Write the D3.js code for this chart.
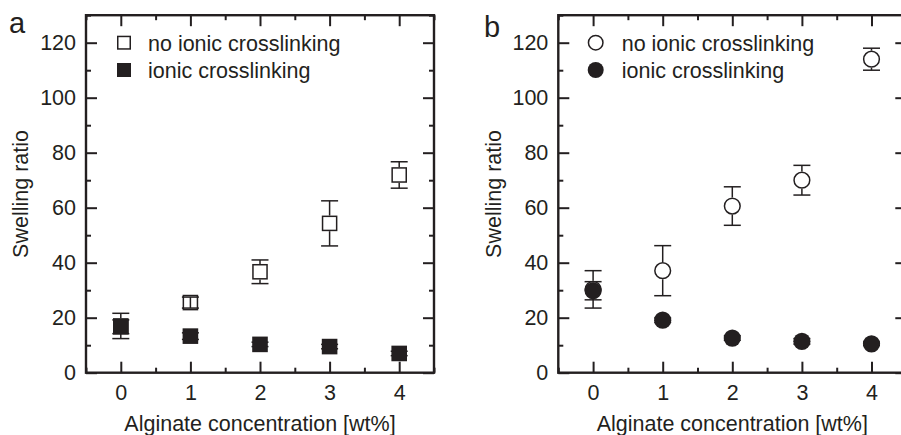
<!DOCTYPE html>
<html>
<head>
<meta charset="utf-8">
<script src="https://cdn.jsdelivr.net/npm/d3@7"></script>
<style>
  body { margin: 0; background: #fff; }
  svg { display: block; }
  text { font-family: "Liberation Sans", Arial, sans-serif; fill: #231f20; }
</style>
</head>
<body>
<svg id="chart" width="901" height="435"></svg>
<script>
// Alginate concentration (wt%) on the x axis
const concentrations = [0, 1, 2, 3, 4];
const xTicks = [0, 1, 2, 3, 4];
const xMinorTicks = [-0.5, 0.5, 1.5, 2.5, 3.5, 4.5];
const yTicks = [0, 20, 40, 60, 80, 100, 120];
const yMinorTicks = [10, 30, 50, 70, 90, 110, 130];
const seriesNames = ["no ionic crosslinking", "ionic crosslinking"];
const panelLetters = ["a", "b"];

// Panel a: swelling ratio (mean and error)
const aNoIonic = [17.0, 25.5, 36.7, 54.3, 71.9];
const aNoIonicErr = [4.6, 2.0, 4.3, 8.2, 4.8];
const aIonic = [16.7, 13.3, 10.3, 9.5, 7.0];
const aIonicErr = [2.5, 1.2, 0.8, 0.8, 0.8];

// Panel b: swelling ratio (mean and error)
const bNoIonic = [30.3, 37.1, 60.6, 70.0, 114.0];
const bNoIonicErr = [6.8, 9.1, 7.0, 5.4, 4.0];
const bIonic = [29.8, 19.1, 12.6, 11.4, 10.5];
const bIonicErr = [3.3, 0.8, 0.8, 1.0, 0.6];

const ink = "#231f20";
const svg = d3.select("#chart");

const panels = [
  { letter: panelLetters[0], left: 86, shape: "square",
    open: aNoIonic, openErr: aNoIonicErr, filled: aIonic, filledErr: aIonicErr,
    letterPos: [9, 33], legendDx: 38, textDx: 62 },
  { letter: panelLetters[1], left: 558.3, shape: "circle",
    open: bNoIonic, openErr: bNoIonicErr, filled: bIonic, filledErr: bIonicErr,
    letterPos: [484, 37], legendDx: 37.4, textDx: 63.4 }
];

const plotW = 348, plotTop = 15.2, plotBottom = 372.7;

panels.forEach(p => {
  const x = d3.scaleLinear().domain([-0.5, 4.5]).range([p.left, p.left + plotW]);
  const y = d3.scaleLinear().domain([0, 130]).range([plotBottom, plotTop]);
  const g = svg.append("g");

  // Frame
  g.append("rect")
    .attr("x", x.range()[0]).attr("y", plotTop)
    .attr("width", plotW).attr("height", plotBottom - plotTop)
    .attr("fill", "none").attr("stroke", ink).attr("stroke-width", 2.4);

  const styleAxis = sel => {
    sel.select(".domain").remove();
    sel.selectAll(".tick line").attr("stroke", ink).attr("stroke-width", 2);
    sel.selectAll(".tick text").attr("fill", ink)
      .style("font-size", "21.5px").style("font-family", '"Liberation Sans", Arial, sans-serif');
  };

  // Major and minor ticks on all four sides, pointing inward
  g.append("g").attr("transform", `translate(0,${plotBottom})`)
    .call(d3.axisBottom(x).tickValues(xTicks).tickSize(-11).tickPadding(12.5).tickFormat(d3.format("d")))
    .call(styleAxis);
  g.append("g").attr("transform", `translate(0,${plotBottom})`)
    .call(d3.axisBottom(x).tickValues(xMinorTicks).tickSize(-5).tickFormat(""))
    .call(styleAxis);
  g.append("g").attr("transform", `translate(0,${plotTop})`)
    .call(d3.axisTop(x).tickValues(xTicks).tickSize(-11).tickFormat(""))
    .call(styleAxis);
  g.append("g").attr("transform", `translate(0,${plotTop})`)
    .call(d3.axisTop(x).tickValues(xMinorTicks).tickSize(-5).tickFormat(""))
    .call(styleAxis);
  g.append("g").attr("transform", `translate(${x.range()[0]},0)`)
    .call(d3.axisLeft(y).tickValues(yTicks).tickSize(-11).tickPadding(10).tickFormat(d3.format("d")))
    .call(styleAxis);
  g.append("g").attr("transform", `translate(${x.range()[0]},0)`)
    .call(d3.axisLeft(y).tickValues(yMinorTicks).tickSize(-5).tickFormat(""))
    .call(styleAxis);
  g.append("g").attr("transform", `translate(${x.range()[1]},0)`)
    .call(d3.axisRight(y).tickValues(yTicks).tickSize(-11).tickFormat(""))
    .call(styleAxis);
  g.append("g").attr("transform", `translate(${x.range()[1]},0)`)
    .call(d3.axisRight(y).tickValues(yMinorTicks).tickSize(-5).tickFormat(""))
    .call(styleAxis);

  // Axis titles
  g.append("text")
    .attr("x", (x.range()[0] + x.range()[1]) / 2).attr("y", 430.5)
    .attr("text-anchor", "middle").style("font-size", "21.5px")
    .text("Alginate concentration [wt%]");
  g.append("text")
    .attr("transform", `translate(${x.range()[0] - 57.7},${(plotTop + plotBottom) / 2}) rotate(-90)`)
    .attr("text-anchor", "middle").style("font-size", "21.5px")
    .text("Swelling ratio");

  // Panel letter
  g.append("text")
    .attr("x", p.letterPos[0]).attr("y", p.letterPos[1])
    .style("font-size", "29px").text(p.letter);

  // Markers and error bars
  const half = p.shape === "square" ? 7.8 : 8.6;
  const drawMarker = (sel, cx, cy, filled, size) => {
    if (p.shape === "square") {
      const s = filled ? size : size - 1.5;
      sel.append("rect")
        .attr("x", cx - s / 2).attr("y", cy - s / 2)
        .attr("width", s).attr("height", s)
        .attr("fill", filled ? ink : "#fff")
        .attr("stroke", ink).attr("stroke-width", filled ? 0 : 1.5);
    } else {
      sel.append("circle")
        .attr("cx", cx).attr("cy", cy)
        .attr("r", filled ? size / 2 : size / 2 - 0.75)
        .attr("fill", filled ? ink : "#fff")
        .attr("stroke", ink).attr("stroke-width", filled ? 0 : 1.5);
    }
  };

  const drawErrorBar = (sel, cx, cy, yHi, yLo) => {
    const eg = sel.append("g").attr("stroke", ink).attr("stroke-width", 1.5);
    if (cy - yHi > half) {
      eg.append("line").attr("x1", cx).attr("x2", cx).attr("y1", yHi).attr("y2", cy - half);
      eg.append("line").attr("x1", cx).attr("x2", cx).attr("y1", cy + half).attr("y2", yLo);
    } else {
      eg.append("line").attr("x1", cx).attr("x2", cx).attr("y1", yHi).attr("y2", yLo);
    }
    [yHi, yLo].forEach(yy => {
      eg.append("line").attr("x1", cx - 8.5).attr("x2", cx + 8.5).attr("y1", yy).attr("y2", yy);
    });
  };

  const drawSeries = (vals, errs, filled) => {
    const sg = g.append("g");
    concentrations.forEach((c, i) => {
      const cx = x(c), cy = y(vals[i]);
      const yHi = y(vals[i] + errs[i]), yLo = y(vals[i] - errs[i]);
      if (filled) {
        // solid markers sit over their own (short) error bars
        drawErrorBar(sg, cx, cy, yHi, yLo);
        drawMarker(sg, cx, cy, true, half * 2);
      } else {
        drawMarker(sg, cx, cy, false, half * 2);
        drawErrorBar(sg, cx, cy, yHi, yLo);
      }
    });
  };

  drawSeries(p.open, p.openErr, false);
  drawSeries(p.filled, p.filledErr, true);

  // Legend
  const legendRows = [42.7, 70];
  seriesNames.forEach((name, i) => {
    const lx = p.left + p.legendDx, ly = legendRows[i];
    drawMarker(g, lx, ly, i === 1, p.shape === "square" ? 14 : 16);
    g.append("text")
      .attr("x", p.left + p.textDx).attr("y", ly + 8)
      .style("font-size", "21.5px").text(name);
  });
});
</script>
</body>
</html>
